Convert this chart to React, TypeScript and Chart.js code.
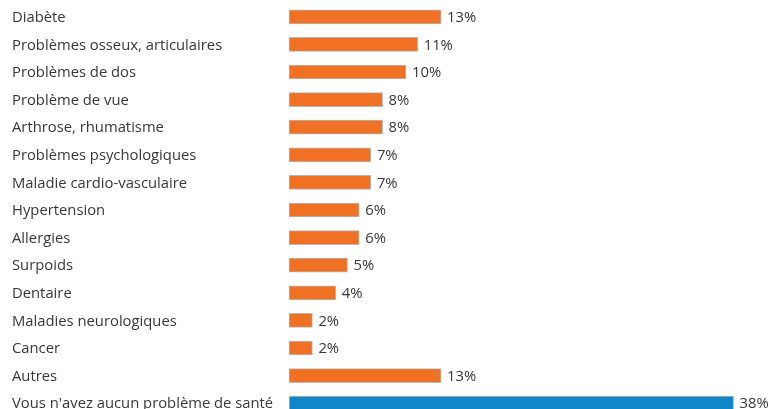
import React, { useEffect, useRef } from "react";
import { Chart, registerables } from "chart.js";

Chart.register(...registerables);

const categories = [
  "Diabète",
  "Problèmes osseux, articulaires",
  "Problèmes de dos",
  "Problème de vue",
  "Arthrose, rhumatisme",
  "Problèmes psychologiques",
  "Maladie cardio-vasculaire",
  "Hypertension",
  "Allergies",
  "Surpoids",
  "Dentaire",
  "Maladies neurologiques",
  "Cancer",
  "Autres",
  "Vous n'avez aucun problème de santé",
];
const values = [13, 11, 10, 8, 8, 7, 7, 6, 6, 5, 4, 2, 2, 13, 38];
const ORANGE = "#F07024";
const BLUE = "#0E86C8";
const colors = values.map((_, i) => (i === values.length - 1 ? BLUE : ORANGE));

const FONT = "'Open Sans', 'Noto Sans', sans-serif";
const FONT_SIZE = 14.8;
const TEXT_COLOR = "#383838";

const labelsPlugin = {
  id: "labelsPlugin",
  afterDatasetsDraw(chart: any) {
    const ctx = chart.ctx;
    const meta = chart.getDatasetMeta(0);
    ctx.save();
    ctx.font = `${FONT_SIZE}px ${FONT}`;
    ctx.fillStyle = TEXT_COLOR;
    ctx.textAlign = "left";
    ctx.textBaseline = "middle";
    meta.data.forEach((bar: any, i: number) => {
      ctx.fillText(categories[i], 12, bar.y + 1);
      ctx.fillText(values[i] + "%", bar.x + 6, bar.y + 1);
    });
    ctx.restore();
  },
};

export default function App() {
  const ref = useRef<HTMLCanvasElement>(null);
  useEffect(() => {
    if (!ref.current) return;
    const chart = new Chart(ref.current, {
      type: "bar",
      data: {
        labels: categories,
        datasets: [
          {
            data: values,
            backgroundColor: colors,
            borderColor: "#b8b8b8",
            borderWidth: 1,
            borderSkipped: false,
            barThickness: 14,
          },
        ],
      },
      options: {
        indexAxis: "y",
        responsive: false,
        animation: false,
        layout: { padding: { left: 12, right: 16, top: 3, bottom: 0 } },
        plugins: { legend: { display: false }, tooltip: { enabled: false } },
        scales: {
          x: { display: false, min: 0, max: 40 },
          y: {
            offset: true,
            grid: { display: false, drawTicks: false },
            border: { display: false },
            afterFit(scale: any) {
              scale.width = 277;
              scale.paddingTop = 0;
              scale.paddingBottom = 0;
            },
            ticks: { display: false },
          },
        },
      },
      plugins: [labelsPlugin],
    });
    return () => chart.destroy();
  }, []);
  return (
    <div
      style={{
        position: "fixed",
        left: 0,
        top: 0,
        width: 773,
        height: 409,
        overflow: "hidden",
        background: "#fff",
      }}
    >
      <canvas ref={ref} width={773} height={417} style={{ display: "block" }} />
    </div>
  );
}
